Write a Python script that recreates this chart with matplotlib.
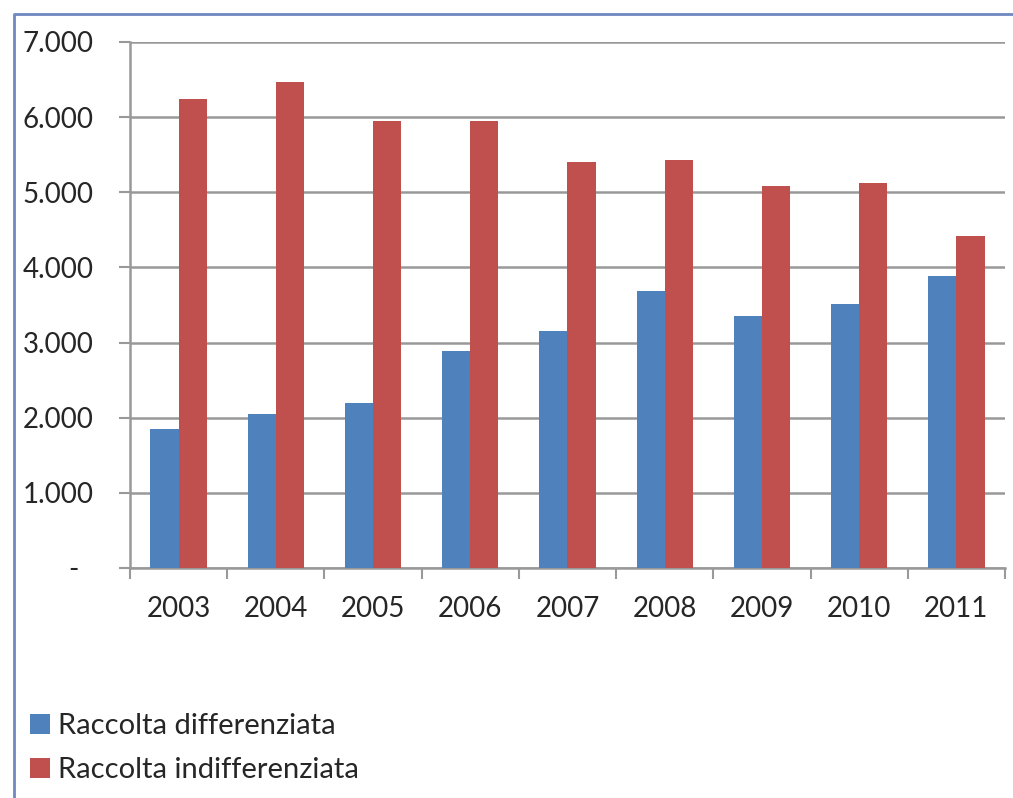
import matplotlib
matplotlib.use("Agg")
import matplotlib.pyplot as plt
from matplotlib.lines import Line2D
from matplotlib.ticker import FuncFormatter
import numpy as np

plt.rcParams['font.family'] = ['Lato', 'DejaVu Sans']

anni = ['2003', '2004', '2005', '2006', '2007', '2008', '2009', '2010', '2011']
differenziata = [1850, 2050, 2200, 2890, 3160, 3680, 3350, 3510, 3880]
indifferenziata = [6240, 6470, 5950, 5950, 5400, 5430, 5090, 5120, 4420]
serie = ['Raccolta differenziata', 'Raccolta indifferenziata']
colori = ['#4F81BD', '#C0504D']

fig = plt.figure(figsize=(10.13, 7.98), dpi=100)
ax = fig.add_axes([130/1013, 1-568/798, 875/1013, 526/798])

x = np.arange(len(anni))
w = 0.29
ax.bar(x - w/2, differenziata, w, color=colori[0], label=serie[0], zorder=3)
ax.bar(x + w/2, indifferenziata, w, color=colori[1], label=serie[1], zorder=3)

ax.set_xlim(-0.5, len(anni) - 0.5)
ax.set_ylim(0, 7000)
ax.set_yticks(range(0, 7001, 1000))

def fmt(v, pos):
    if v == 0:
        return '-  '
    return '{:,.0f}'.format(v).replace(',', '.')
ax.yaxis.set_major_formatter(FuncFormatter(fmt))

ax.set_xticks(x)
ax.set_xticklabels(anni)
ax.set_xticks(np.arange(-0.5, len(anni)), minor=True)
ax.tick_params(axis='x', which='major', length=0, pad=20, labelsize=20, labelcolor='#262626')
ax.tick_params(axis='x', which='minor', length=8, width=1.5, color='#999999', direction='out')
ax.tick_params(axis='y', length=8, width=1.5, color='#999999', pad=18, labelsize=20, labelcolor='#262626')

ax.grid(axis='y', color='#999999', linewidth=1.8, zorder=0)
for s in ['top', 'right']:
    ax.spines[s].set_visible(False)
for s in ['left', 'bottom']:
    ax.spines[s].set_color('#999999')
    ax.spines[s].set_linewidth(1.8)

fig.legend(loc='upper left', bbox_to_anchor=(30/1013, 1-713/798), frameon=False,
           borderaxespad=0, borderpad=0,
           fontsize=21, handlelength=0.7, handleheight=0.7, handletextpad=0.25,
           labelspacing=0.62, labelcolor='#262626')

# bordo del riquadro (solo alto e sinistra visibili)
fig.add_artist(Line2D([14/1013, 14/1013, 1], [0, 1-14/798, 1-14/798],
                      transform=fig.transFigure, color='#7088C0', linewidth=2))

fig.savefig('out.png', dpi=100)
